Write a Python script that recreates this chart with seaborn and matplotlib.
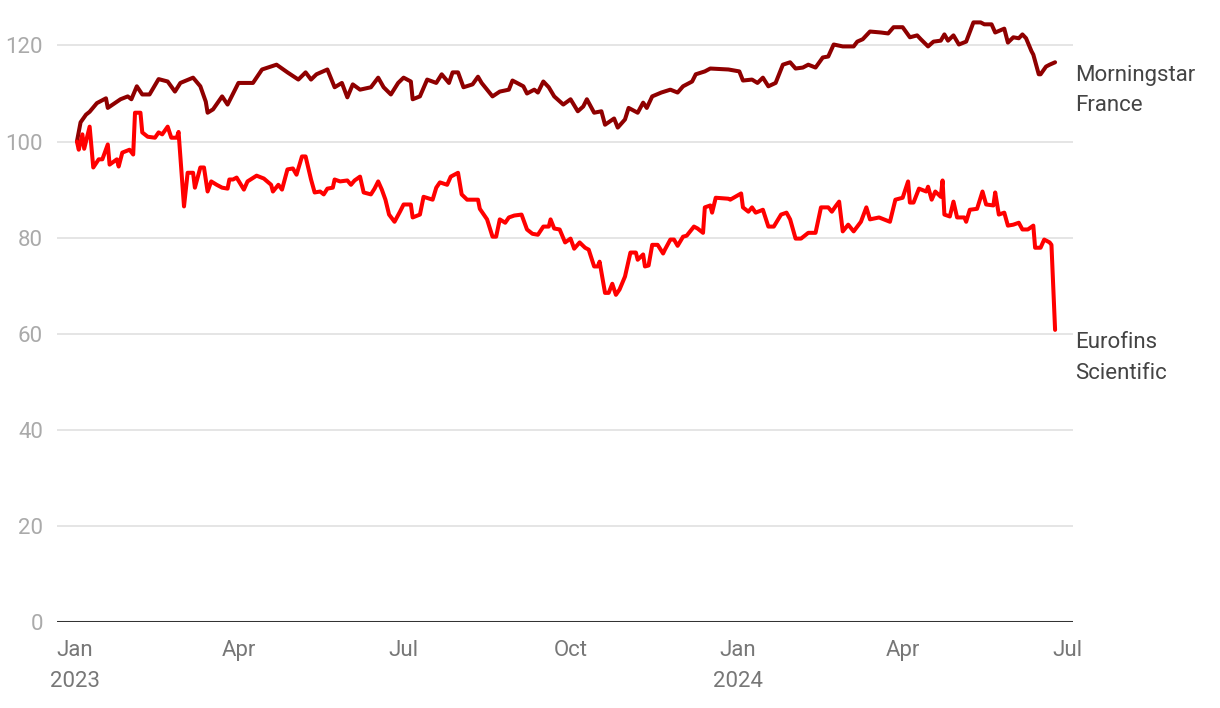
import pandas as pd
import matplotlib.pyplot as plt
import seaborn as sns

# Morningstar France: days since 2023-01-01 and index value
ms_days = [1, 3, 6, 8, 12, 17, 18, 25, 29, 31, 34, 37, 41, 46, 51, 55, 58, 65, 69, 72,
           73, 76, 81, 84, 90, 98, 103, 111, 117, 123, 127, 130, 133, 139, 143, 147, 150, 153, 157, 163,
           167, 170, 174, 178, 181, 185, 186, 190, 194, 199, 202, 206, 208, 211, 214, 219, 222, 224, 230, 234,
           239, 241, 247, 249, 253, 255, 258, 261, 264, 269, 273, 277, 280, 282, 286, 290, 292, 297, 299, 303,
           305, 310, 313, 315, 318, 323, 328, 332, 335, 340, 342, 347, 350, 360, 366, 368, 373, 376, 379, 382,
           386, 390, 394, 397, 401, 404, 408, 412, 415, 418, 423, 429, 431, 434, 438, 444, 448, 451, 456, 460,
           464, 466, 470, 473, 477, 479, 481, 484, 487, 491, 495, 499, 501, 505, 507, 512, 514, 517, 520, 522,
           524, 527, 528, 531, 532, 535, 537, 540]
ms_values = [100, 104, 105.6, 106.2, 108, 109, 107, 108.8, 109.4, 108.8, 111.5, 109.8, 109.8, 113, 112.5, 110.4, 112.2, 113.3, 111.5, 108.3,
             106, 106.7, 109.4, 107.7, 112.2, 112.2, 115, 116, 114.4, 112.9, 114.4, 112.9, 114, 115, 111.3, 112.2, 109.2, 111.9, 110.8, 111.3,
             113.3, 111.3, 109.8, 112.2, 113.3, 112.5, 108.8, 109.4, 112.9, 112.2, 114, 112.2, 114.4, 114.4, 111.3, 111.9, 113.5, 112.2, 109.4, 110.4,
             110.8, 112.7, 111.5, 110, 110.8, 110.2, 112.5, 111.3, 109.4, 107.7, 108.8, 106.3, 107.3, 108.8, 106, 106.3, 103.5, 104.8, 102.9, 104.6,
             107, 106, 108.1, 107, 109.4, 110.2, 110.8, 110.2, 111.5, 112.5, 114, 114.6, 115.2, 115, 114.6, 112.7, 112.9, 112.2, 113.3, 111.5,
             112.2, 116, 116.5, 115.2, 115.4, 116, 115.4, 117.5, 117.7, 120.2, 119.8, 119.8, 120.8, 121.3, 122.9, 122.7, 122.5, 123.8, 123.8, 121.7,
             122.1, 121.3, 119.8, 120.8, 121, 122.3, 121, 122.1, 120.2, 120.8, 124.8, 124.8, 124.4, 124.4, 122.7, 123.5, 120.6, 121.7, 121.5, 122.3,
             121.5, 118.8, 118.1, 114, 114, 115.6, 116, 116.5]

# Eurofins Scientific: days since 2023-01-01 and index value
ef_days = [1, 2, 4, 5, 8, 10, 13, 15, 18, 19, 23, 24, 26, 30, 32, 33, 36, 37, 40, 44,
           46, 48, 51, 53, 56, 57, 60, 62, 65, 66, 69, 71, 73, 75, 78, 81, 84, 85, 87, 89,
           93, 95, 100, 104, 108, 109, 112, 114, 117, 120, 122, 125, 127, 130, 132, 135, 137, 139, 142, 143,
           146, 150, 152, 154, 157, 159, 163, 165, 167, 169, 171, 173, 176, 179, 181, 185, 186, 190, 192, 197,
           199, 201, 205, 207, 211, 213, 216, 222, 223, 227, 230, 232, 234, 237, 239, 242, 246, 249, 252, 255,
           258, 261, 262, 264, 267, 270, 273, 275, 278, 281, 283, 286, 288, 289, 292, 294, 296, 298, 300, 303,
           306, 309, 310, 313, 314, 316, 318, 321, 324, 325, 328, 330, 332, 335, 337, 341, 343, 346, 347, 350,
           351, 353, 360, 361, 367, 368, 371, 373, 375, 379, 382, 385, 389, 392, 394, 397, 400, 404, 408, 411,
           415, 417, 419, 421, 423, 426, 429, 433, 436, 438, 443, 449, 452, 456, 459, 460, 462, 465, 469, 470,
           472, 474, 477, 478, 479, 482, 484, 486, 490, 491, 493, 497, 500, 502, 506, 507, 509, 512, 514, 517,
           520, 522, 525, 528, 529, 532, 534, 537, 538, 540]
ef_values = [100, 98.3, 101.5, 98.5, 103.1, 94.6, 96.3, 96.3, 99.4, 95.2, 96.3, 94.8, 97.7, 98.3, 97.3, 106, 106, 101.9, 101, 100.8,
             101.9, 101.5, 103.1, 100.8, 100.8, 102, 86.5, 93.5, 93.5, 90.4, 94.6, 94.6, 89.6, 91.7, 91, 90.4, 90.2, 92.1, 92.1, 92.5,
             90, 91.7, 92.9, 92.3, 91, 89.6, 91, 90, 94.2, 94.4, 93.1, 96.9, 96.9, 92.1, 89.4, 89.6, 89, 90.2, 90.4, 92.1,
             91.7, 91.9, 91, 91.9, 92.7, 89.4, 89, 90.2, 91.7, 90, 87.9, 84.8, 83.3, 85.4, 86.9, 86.9, 84.2, 84.8, 88.5, 87.9,
             90.4, 91.5, 91, 92.7, 93.5, 89, 87.9, 87.9, 86, 83.8, 80.2, 80.2, 83.8, 83.1, 84.2, 84.6, 84.8, 81.7, 80.8, 80.6,
             82.3, 82.3, 83.8, 81.9, 81.7, 79, 79.8, 77.7, 79, 77.9, 77.5, 74, 74, 75, 68.5, 68.5, 70.4, 68.1, 69.2, 71.9,
             76.9, 76.9, 75.4, 76.5, 74, 74.2, 78.5, 78.5, 76.7, 77.5, 79.6, 79.6, 78.3, 80.2, 80.4, 82.3, 81.9, 81, 86.3, 86.7,
             85.2, 88.3, 88.1, 87.9, 89.2, 86.3, 85.4, 86.3, 85.2, 85.8, 82.3, 82.3, 84.8, 85.2, 83.8, 79.8, 79.8, 81, 81, 86.3,
             86.3, 85.4, 86.5, 87.5, 81.3, 82.7, 81.3, 83.3, 86.3, 83.8, 84.2, 83.3, 87.9, 88.3, 91.7, 87.3, 87.3, 90.2, 89.6, 90.6,
             87.9, 89.6, 88.5, 91.9, 84.8, 84.4, 87.5, 84.2, 84.2, 83.3, 85.8, 86, 89.6, 86.9, 86.7, 89.4, 84.8, 85.2, 82.5, 82.7,
             83.1, 81.7, 81.7, 82.5, 77.9, 77.9, 79.6, 79, 78.5, 60.8]

series_names = ['Morningstar France', 'Eurofins Scientific']
series_labels = ['Morningstar\nFrance', 'Eurofins\nScientific']
series_colors = ['#8f0000', '#ff0000']
y_ticks = [0, 20, 40, 60, 80, 100, 120]
x_ticks = ['2023-01-01', '2023-04-01', '2023-07-01', '2023-10-01',
           '2024-01-01', '2024-04-01', '2024-07-01']
x_tick_labels = ['Jan\n2023', 'Apr', 'Jul', 'Oct', 'Jan\n2024', 'Apr', 'Jul']

start = pd.Timestamp('2023-01-01')
ms = pd.DataFrame({'date': start + pd.to_timedelta(ms_days, unit='D'), 'value': ms_values})
ef = pd.DataFrame({'date': start + pd.to_timedelta(ef_days, unit='D'), 'value': ef_values})

sns.set_theme(style='white')
plt.rcParams['font.family'] = ['Roboto', 'DejaVu Sans']

fig = plt.figure(figsize=(12.2, 7.08), dpi=100)
ax = fig.add_axes([0.0467, 0.1215, 0.833, 0.855])

for df, name, color in zip([ms, ef], series_names, series_colors):
    sns.lineplot(data=df, x='date', y='value', color=color, linewidth=2.9, ax=ax, label=name)
ax.get_legend().remove()

ax.set_ylim(0, 126)
ax.set_xlim(pd.Timestamp('2022-12-22'), pd.Timestamp('2024-07-04'))
ax.set_yticks(y_ticks)
ax.set_xticks(pd.to_datetime(x_ticks))
ax.set_xticklabels(x_tick_labels, linespacing=1.6)
ax.grid(axis='y', color='#e3e3e3', linewidth=1.3)
ax.axhline(0, color='#333333', linewidth=2.2)
for s in ax.spines.values():
    s.set_visible(False)
ax.tick_params(axis='y', labelsize=16, colors='#aaaaaa', length=0, pad=10)
ax.tick_params(axis='x', labelsize=16, colors='#777777', length=0, pad=13)
ax.set_xlabel('')
ax.set_ylabel('')

for df, lab in zip([ms, ef], series_labels):
    ax.text(1.002, df['value'].iloc[-1] - 0.5, lab, transform=ax.get_yaxis_transform(),
            ha='left', va='top', fontsize=16, color='#444444', linespacing=1.6)

fig.savefig('out.png', dpi=100)
